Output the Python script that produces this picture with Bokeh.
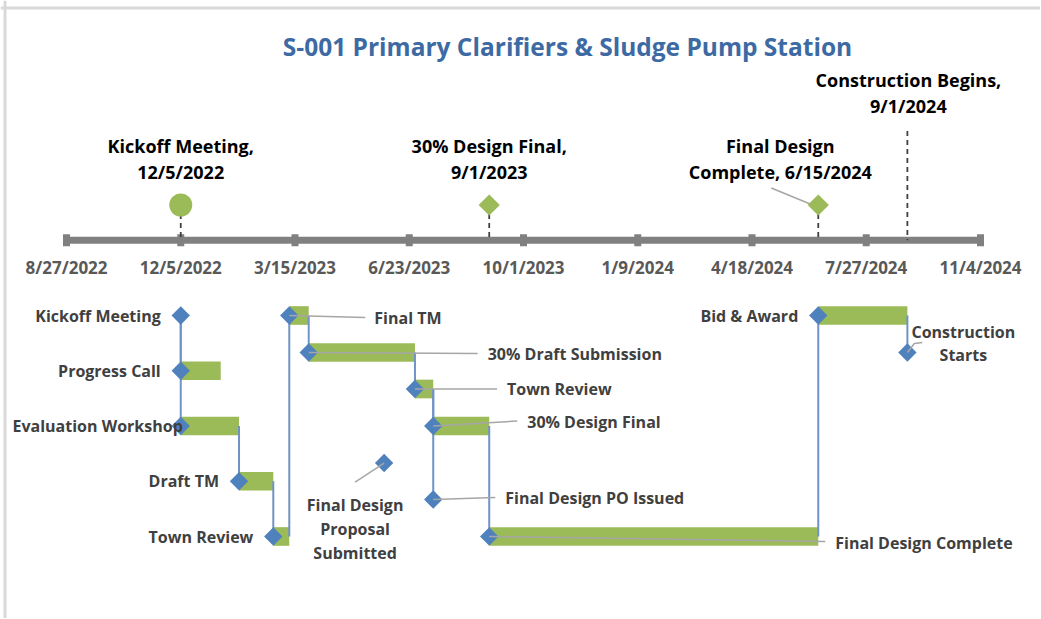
from datetime import datetime, timedelta
from bokeh.plotting import figure
from bokeh.models import ColumnDataSource, Range1d, Span
from bokeh.embed import file_html
from bokeh.resources import INLINE
from bokeh.core.properties import value
import math

# ---------------- data ----------------
title = "S-001 Primary Clarifiers & Sludge Pump Station"

tick_labels = ["8/27/2022", "12/5/2022", "3/15/2023", "6/23/2023", "10/1/2023",
               "1/9/2024", "4/18/2024", "7/27/2024", "11/4/2024"]

ms_names = ["Kickoff Meeting", "30% Design Final", "Final Design Complete", "Construction Begins"]
ms_dates = ["12/5/2022", "9/1/2023", "6/15/2024", "9/1/2024"]
ms_labels = ["Kickoff Meeting,\n12/5/2022", "30% Design Final,\n9/1/2023",
             "Final Design\nComplete, 6/15/2024", "Construction Begins,\n9/1/2024"]
ms_shapes = ["circle", "diamond", "diamond", None]

task_names = ["Kickoff Meeting", "Progress Call", "Evaluation Workshop", "Draft TM", "Town Review",
              "Final TM", "30% Draft Submission", "Town Review", "30% Design Final",
              "Final Design Proposal Submitted", "Final Design PO Issued", "Final Design Complete",
              "Bid & Award", "Construction Starts"]
task_start = ["12/5/2022", "12/5/2022", "12/5/2022", "1/25/2023", "2/24/2023",
              "3/10/2023", "3/27/2023", "6/28/2023", "7/14/2023",
              "6/1/2023", "7/14/2023", "9/1/2023",
              "6/15/2024", "9/1/2024"]
task_end = ["12/5/2022", "1/9/2023", "1/25/2023", "2/24/2023", "3/10/2023",
            "3/27/2023", "6/28/2023", "7/14/2023", "9/1/2023",
            "6/1/2023", "7/14/2023", "6/15/2024",
            "9/1/2024", "9/1/2024"]
task_row = [1, 2, 3, 4, 5, 1, 1.67, 2.33, 3, 3.67, 4.33, 5, 1, 1.67]
links = [(0, 1), (0, 2), (2, 3), (3, 4), (4, 5), (5, 6), (6, 7), (7, 8), (7, 10),
         (8, 11), (11, 12), (12, 13)]


def d(s):
    m, dd, y = s.split("/")
    return datetime(int(y), int(m), int(dd))


# ---------------- layout ----------------
PX_DAY = 1.1425
PX_ROW = 55.25
W, H = 1040, 618
ORIGIN = d(tick_labels[0])
X0 = ORIGIN - timedelta(days=66 / PX_DAY)
X1 = X0 + timedelta(days=W / PX_DAY)
Y_TOP = 1 - 315 / PX_ROW
Y_BOT = Y_TOP + H / PX_ROW
AXIS_ROW = -0.36
MS_ROW = -1.0


def sx(t, px):
    return t + timedelta(days=px / PX_DAY)


def sy(r, px):
    return r + px / PX_ROW


FONT = value("Open Sans")
GREEN = "#9bbb59"
BLUE = "#4f81bd"
LINK = "#6f93c6"
GREY_TXT = "#404040"

p = figure(width=W, height=H, output_backend="svg", toolbar_location=None,
           x_axis_type="datetime", x_range=Range1d(X0, X1), y_range=Range1d(Y_BOT, Y_TOP),
           x_axis_location=None, y_axis_location=None, min_border=0,
           outline_line_color=None, background_fill_color="white", border_fill_color="white")
p.xgrid.visible = False
p.ygrid.visible = False

# frame border (top and left)
p.add_layout(Span(location=sy(Y_TOP, 7.5), dimension="width", line_color="#d9d9d9", line_width=3))
p.add_layout(Span(location=sx(X0, 4.5), dimension="height", line_color="#d9d9d9", line_width=3))

# title
p.text(x=[sx(X0, 567)], y=[sy(Y_TOP, 46)], text=[title], text_font=FONT, text_font_size="24.5px",
       text_font_style="bold", text_color="#3d6aa3", text_align="center", text_baseline="middle")

# ---------------- timeline ----------------
tick_dates = [d(s) for s in tick_labels]
p.line(x=[tick_dates[0], tick_dates[-1]], y=[AXIS_ROW, AXIS_ROW], line_color="#808080", line_width=7)
p.rect(x=tick_dates, y=[AXIS_ROW] * len(tick_dates), width=7, height=12,
       width_units="screen", height_units="screen", fill_color="#808080", line_color=None)
p.text(x=tick_dates, y=[AXIS_ROW] * len(tick_dates), text=tick_labels, y_offset=27,
       text_font=FONT, text_font_size="17px", text_font_style="bold", text_color="#595959",
       text_align="center", text_baseline="middle")

ms_x = [d(s) for s in ms_dates]
# dashed drop lines
for name, t, shp in zip(ms_names, ms_x, ms_shapes):
    top = MS_ROW if shp else sy(MS_ROW, -74)
    p.line(x=[t, t], y=[top, AXIS_ROW], line_color="#404040", line_width=1.8, line_dash="5 4")

for t, shp in zip(ms_x, ms_shapes):
    if shp == "circle":
        p.scatter(x=[t], y=[MS_ROW], marker="circle", size=23, fill_color=GREEN, line_color=None)
    elif shp == "diamond":
        p.scatter(x=[t], y=[MS_ROW], marker="square", size=15, angle=math.pi / 4,
                  fill_color=GREEN, line_color=None)

ms_layout = {"Kickoff Meeting": (0, -46), "30% Design Final": (0, -46),
             "Final Design Complete": (-38, -46), "Construction Begins": (1, -112)}
for name, t, lab in zip(ms_names, ms_x, ms_labels):
    dx, dy = ms_layout[name]
    p.text(x=[t], y=[MS_ROW], text=[lab], x_offset=dx, y_offset=dy, text_font=FONT,
           text_font_size="18px", text_font_style="bold", text_color="#000000",
           text_align="center", text_baseline="middle", text_line_height=1.12)
# leader line for Final Design Complete milestone label
t_fdc = ms_x[2]
p.line(x=[sx(t_fdc, -47), sx(t_fdc, -8)], y=[sy(MS_ROW, -17), sy(MS_ROW, -1)],
       line_color="#a6a6a6", line_width=1.5)

# ---------------- gantt ----------------
ts = [d(s) for s in task_start]
te = [d(s) for s in task_end]
bars = [i for i in range(len(ts)) if te[i] > ts[i]]
p.hbar(y=[task_row[i] for i in bars], left=[ts[i] for i in bars], right=[te[i] for i in bars],
       height=0.338, fill_color=GREEN, line_color=None)

# dependency links
p.segment(x0=[te[a] for a, b in links], y0=[task_row[a] for a, b in links],
          x1=[te[a] for a, b in links], y1=[task_row[b] for a, b in links],
          line_color=LINK, line_width=2)

p.scatter(x=ts, y=task_row, marker="square", size=13, angle=math.pi / 4,
          fill_color=BLUE, line_color=None)

# leader lines
leaders = {5: [(76, 2)], 6: [(169, 1)], 7: [(82, 0)], 8: [(84, -5)], 9: [(-29, 19)],
           10: [(62, -2)], 11: [(336, 5)], 13: [(7, -9), (15, -10)]}
lxs, lys = [], []
for i, pts in leaders.items():
    xs = [ts[i]] + [sx(ts[i], a) for a, b in pts]
    ys = [task_row[i]] + [sy(task_row[i], b) for a, b in pts]
    lxs.append(xs)
    lys.append(ys)
p.multi_line(xs=lxs, ys=lys, line_color="#a6a6a6", line_width=1.5)

label_layout = {0: ("right", -20, 0), 1: ("right", -20, 0), 2: ("right", 2, 0),
                3: ("right", -20, 0), 4: ("right", -20, 0), 5: ("left", 85, 2),
                6: ("left", 179, 1), 7: ("left", 92, 0), 8: ("left", 94, -4),
                9: ("center", -29, 66), 10: ("left", 72, -1), 11: ("left", 346, 6),
                12: ("right", -20, 0), 13: ("center", 56, -9)}
wrapped = {9: "Final Design\nProposal\nSubmitted", 13: "Construction\nStarts"}
src = ColumnDataSource(dict(
    x=ts, y=task_row,
    text=[wrapped.get(i, n) for i, n in enumerate(task_names)],
    align=[label_layout[i][0] for i in range(len(ts))],
    xo=[label_layout[i][1] for i in range(len(ts))],
    yo=[label_layout[i][2] for i in range(len(ts))],
))
p.text(x="x", y="y", text="text", x_offset="xo", y_offset="yo", text_align="align",
       source=src, text_font=FONT, text_font_size="16px", text_font_style="bold",
       text_color=GREY_TXT, text_baseline="middle", text_line_height=1.07)

open("out.html", "w").write(file_html(p, INLINE))
